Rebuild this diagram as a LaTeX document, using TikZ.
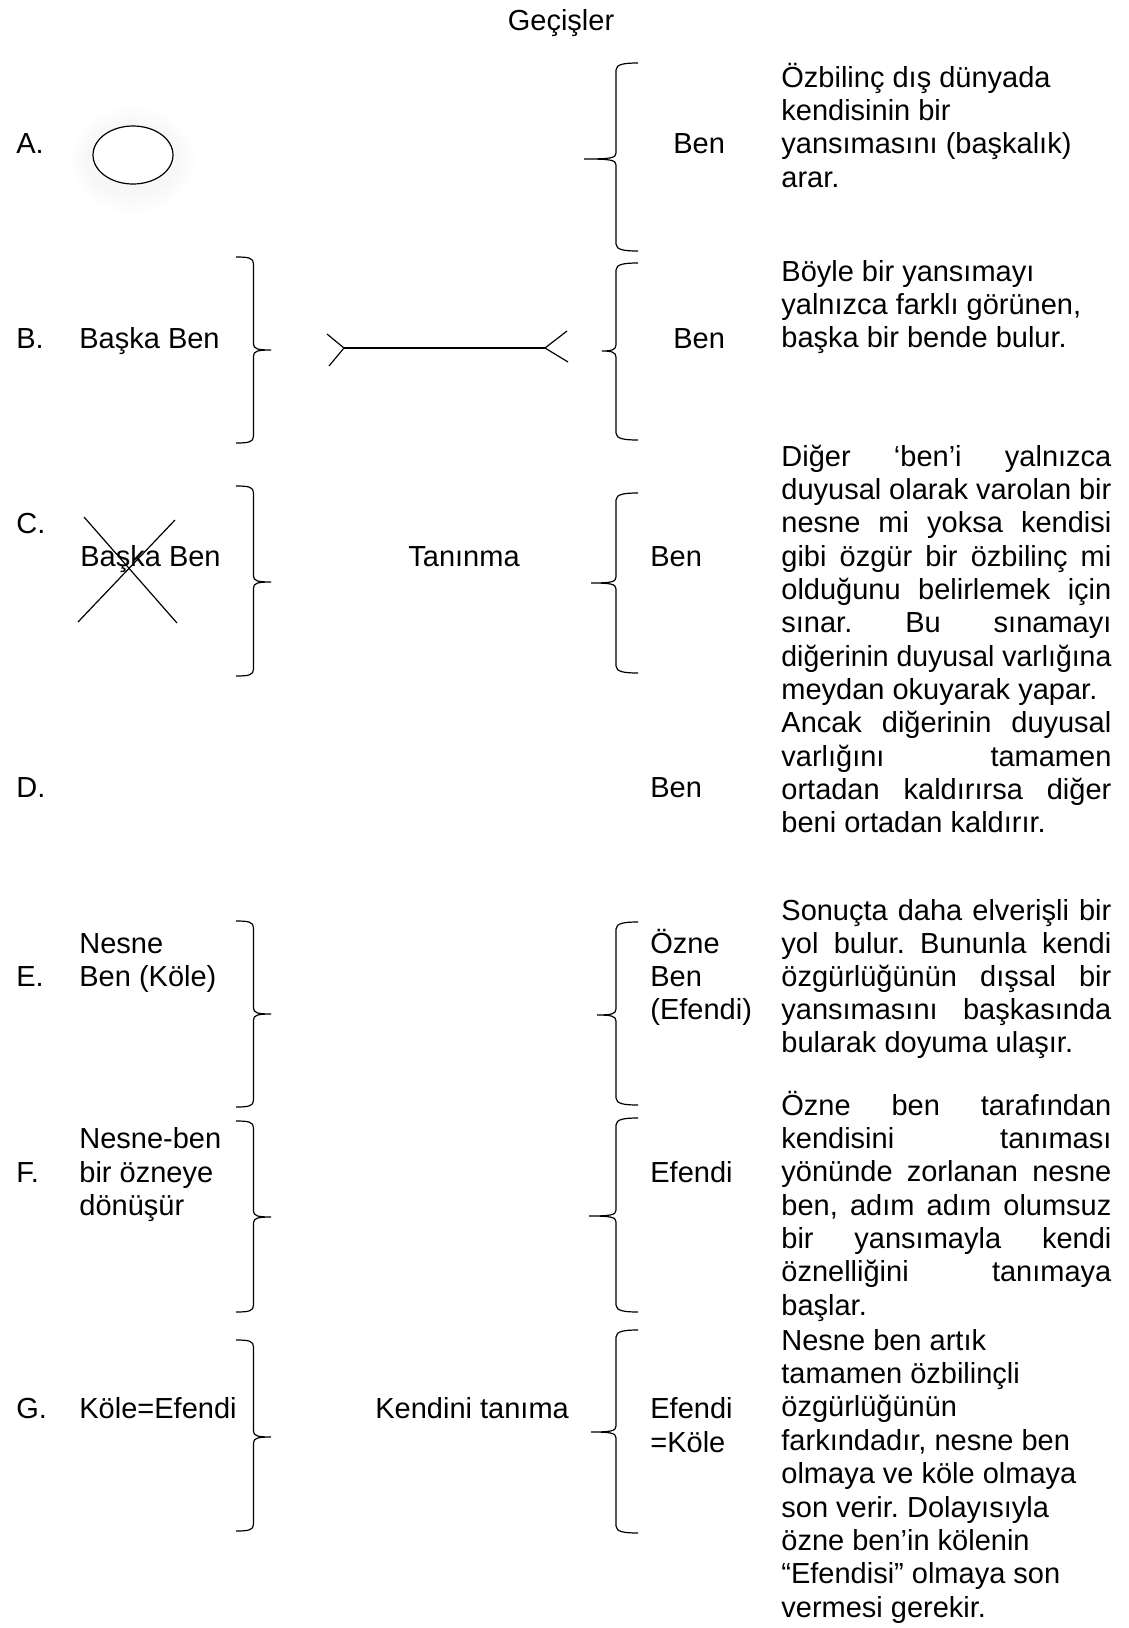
\documentclass[tikz,border=0pt]{standalone}
\usepackage{fontspec}
\usepackage{graphicx}
\setmainfont{Liberation Sans}
\frenchspacing
\newcommand{\jline}[1]{\makebox[165pt][s]{#1}}
\newcommand{\closecurl}[3]{\draw[curl] (236,#1) .. controls (249,#1) and (253.5,#1+1) .. (253.5,#1+7) -- (253.5,#2-6) .. controls (253.5,#2-1) and (258,#2) .. (271,#2) .. controls (258,#2) and (253.5,#2+1) .. (253.5,#2+6) -- (253.5,#3-7) .. controls (253.5,#3-1) and (249,#3) .. (236,#3);}
\newcommand{\opencurl}[4]{\draw[curl] (638,#1) .. controls (625,#1) and (616,#1+1) .. (616,#1+7) -- (616,#3-6) .. controls (616,#3-1) and (611,#3) .. (#2,#3) .. controls (611,#3) and (616,#3+1) .. (616,#3+6) -- (616,#4-7) .. controls (616,#4-1) and (625,#4) .. (638,#4);}

\begin{document}
\begin{tikzpicture}[x=0.5pt,y=-0.5pt,
	txt/.style={anchor=base west,inner sep=0pt},
	curl/.style={line width=0.6pt},
	font=\fontsize{14.5}{16.7}\selectfont]
	\useasboundingbox (0,0) rectangle (1129,1628);
	\node[anchor=base,inner sep=0pt] (title) at (561,30) {Geçişler};
	\foreach \l/\y in {A/153,B/348,C/533,D/797,E/986,F/1182,G/1418}
		{\node[txt] (l\l) at (16,\y) {\l.};}
	\foreach \k in {0,...,7}
		{\fill[black,opacity=0.003] (133,160) ellipse ({46+\k*2.4} and {36+\k*2.6});}
	\filldraw[fill=white,line width=0.6pt] (133,155) ellipse (40 and 29);
	\foreach \t/\m/\b in {257/350/443,486/582/676,921/1014/1107,1121/1217/1312,1340/1437/1531}
		{\closecurl{\t}{\m}{\b}}
	\foreach \t/\x/\m/\b in {63/584/159/251,263/602/351/440,493/591/583/673,922/597/1015/1105,1118/589/1216/1312,1330/591/1432/1533}
		{\opencurl{\t}{\x}{\m}{\b}}
	\node[txt] (bb) at (79,348) {Başka Ben};
	\coordinate (cl) at (344,348);
	\coordinate (cr) at (545,348);
	\draw[curl] (cl)--(cr);
	\draw[curl] (327,334)--(cl)--(329,366);
	\draw[curl] (567,331)--(cr)--(568,362);
	\node[txt] (cb) at (80,566) {Başka Ben};
	\draw[curl] (84,517)--(177,623);
	\draw[curl] (175,520)--(78,622);
	\node[anchor=base,inner sep=0pt] (tan) at (464,566) {Tanınma};
	\node[txt] (en1) at (79,953) {Nesne};
	\node[txt] (en2) at (79,986) {Ben (Köle)};
	\node[txt] (fn1) at (79,1148) {Nesne-ben};
	\node[txt] (fn2) at (79,1182) {bir özneye};
	\node[txt] (fn3) at (79,1215) {dönüşür};
	\node[txt] (gn) at (79,1418) {Köle=Efendi};
	\node[txt] (kt) at (375,1418) {Kendini tanıma};
	\node[txt] (ba) at (673,153) {Ben};
	\node[txt] (bbr) at (673,348) {Ben};
	\node[txt] (bc) at (650,566) {Ben};
	\node[txt] (bd) at (650,797) {Ben};
	\node[txt] (be1) at (650,953) {Özne};
	\node[txt] (be2) at (650,986) {Ben};
	\node[txt] (be3) at (650,1019) {(Efendi)};
	\node[txt] (bf) at (650,1182) {Efendi};
	\node[txt] (bg1) at (650,1418) {Efendi};
	\node[txt] (bg2) at (650,1452) {=Köle};
	\foreach \s [count=\i from 0] in {Özbilinç dış dünyada, kendisinin bir, yansımasını (başkalık), arar.}
		{\node[txt] (pa\i) at (781,87+33.4*\i) {\s};}
	\foreach \s [count=\i from 0] in {Böyle bir yansımayı, {yalnızca farklı görünen,}, başka bir bende bulur.}
		{\node[txt] (pb\i) at (781,281+33.3*\i) {\s};}
	\foreach \s [count=\i from 0] in {\jline{Diğer ‘ben’i yalnızca}, \jline{duyusal olarak varolan bir}, \jline{nesne mi yoksa kendisi}, \jline{gibi özgür bir özbilinç mi}, \jline{olduğunu belirlemek için}, \jline{sınar. Bu sınamayı}, \resizebox{165pt}{\height}{diğerinin duyusal varlığına}, meydan okuyarak yapar., \jline{Ancak diğerinin duyusal}, \jline{varlığını tamamen}, \jline{ortadan kaldırırsa diğer}, beni ortadan kaldırır.}
		{\node[txt] (pc\i) at (781,466+33.35*\i) {\s};}
	\foreach \s [count=\i from 0] in {\jline{Sonuçta daha elverişli bir}, \jline{yol bulur. Bununla kendi}, \jline{özgürlüğünün dışsal bir}, \jline{yansımasını başkasında}, bularak doyuma ulaşır.}
		{\node[txt] (pe\i) at (781,920+33*\i) {\s};}
	\foreach \s [count=\i from 0] in {\jline{Özne ben tarafından}, \jline{kendisini tanıması}, \jline{yönünde zorlanan nesne}, \jline{ben, adım adım olumsuz}, \jline{bir yansımayla kendi}, \jline{öznelliğini tanımaya}, başlar.}
		{\node[txt] (pf\i) at (781,1115+33.35*\i) {\s};}
	\foreach \s [count=\i from 0] in {Nesne ben artık, tamamen özbilinçli, özgürlüğünün, {farkındadır, nesne ben}, olmaya ve köle olmaya, son verir. Dolayısıyla, özne ben’in kölenin, “Efendisi” olmaya son, vermesi gerekir.}
		{\node[txt] (pg\i) at (781,1350+33.4*\i) {\s};}
\end{tikzpicture}
\end{document}
